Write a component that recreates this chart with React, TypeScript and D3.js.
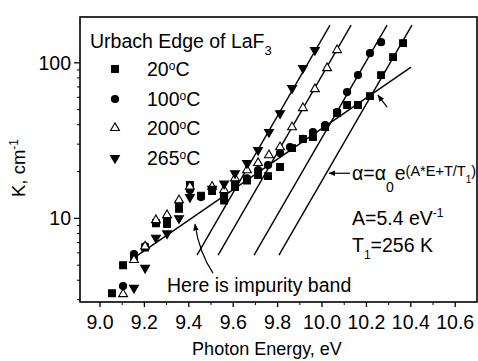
import React from "react";
import * as d3 from "d3";

// ---- data ----
const xDomain = [8.91, 10.698];
const yDomain = [2.9, 197];
const xTicks = [9.0, 9.2, 9.4, 9.6, 9.8, 10.0, 10.2, 10.4, 10.6];
const xTickLabels = ["9.0", "9.2", "9.4", "9.6", "9.8", "10.0", "10.2", "10.4", "10.6"];
const xMinorTicks = [9.1, 9.3, 9.5, 9.7, 9.9, 10.1, 10.3, 10.5];
const yTicks = [10, 100];
const yTickLabels = ["10", "100"];
const yMinorTicks = [3, 4, 5, 6, 7, 8, 9, 20, 30, 40, 50, 60, 70, 80, 90];

const seriesNames = ["20", "100", "200", "265"];

const e20 = [9.054, 9.104, 9.153, 9.203, 9.252, 9.302, 9.356, 9.405, 9.455, 9.505, 9.559, 9.608, 9.662, 9.712, 9.757, 9.811, 9.865, 9.914, 9.959, 10.014, 10.068, 10.113, 10.162, 10.216, 10.266, 10.32, 10.365];
const k20 = [3.3, 5.0, 5.7, 6.5, 9.3, 9.2, 11.5, 16.4, 14.0, 15.0, 13.0, 15.9, 17.5, 19.0, 18.7, 21.4, 28.3, 32.4, 33.3, 38.6, 47.6, 53.5, 53.5, 61.1, 83.4, 108.8, 133.9];

const e100 = [9.104, 9.153, 9.203, 9.252, 9.302, 9.356, 9.405, 9.455, 9.505, 9.559, 9.608, 9.662, 9.712, 9.757, 9.811, 9.856, 9.914, 9.959, 10.014, 10.068, 10.113, 10.162, 10.216, 10.266];
const k100 = [3.67, 5.9, 6.6, 9.4, 10.0, 12.6, 15.2, 13.7, 15.5, 14.1, 17.1, 18.1, 20.4, 22.0, 26.3, 28.7, 32.4, 35.9, 39.8, 48.2, 64.9, 83.4, 115.4, 135.8];

const e200 = [9.104, 9.153, 9.203, 9.252, 9.302, 9.356, 9.405, 9.505, 9.559, 9.608, 9.662, 9.712, 9.761, 9.811, 9.865, 9.914, 9.968, 10.023, 10.068];
const k200 = [3.26, 5.4, 6.6, 9.75, 10.5, 13.1, 16.0, 16.0, 15.2, 18.1, 20.4, 22.7, 25.5, 28.7, 38.6, 51.2, 67.8, 92.5, 120.8];

const e265 = [9.153, 9.203, 9.252, 9.302, 9.356, 9.405, 9.505, 9.559, 9.608, 9.662, 9.712, 9.761, 9.811, 9.865, 9.914, 9.968];
const k265 = [3.57, 4.8, 7.5, 8.0, 10.0, 13.7, 15.5, 16.7, 19.5, 22.7, 27.5, 35.9, 47.4, 68.7, 92.5, 120.8];

// fitted lines (endpoints, E in eV, K in cm-1)
const impurityLineE = [9.158, 10.401];
const impurityLineK = [5.64, 93.8];
const steepLowE = [9.437, 9.532, 9.694, 9.806];
const steepHighE = [10.036, 10.131, 10.293, 10.405];
const steepLowK = 5.8;
const steepHighK = 174.6;

// annotation anchors (data units)
const formulaArrow = { fromE: 10.126, toE: 10.032, K: 19.5 };
const kneeArrow = { fromE: 10.293, fromK: 51.9, toE: 10.252, toK: 61.9 };
const bandArrow = { fromE: 9.509, fromK: 4.45, ctrlE: 9.446, ctrlK: 6.07, toE: 9.428, toK: 9.19 };

const FONT = "'Liberation Sans', Arial, Helvetica, sans-serif";

export default function App() {
  const W = 478, H = 361;
  const x = d3.scaleLinear().domain(xDomain).range([80, 477]);
  const y = d3.scaleLog().domain(yDomain).range([302, 17]);
  const line = d3.line<[number, number]>().x((d) => x(d[0])).y((d) => y(d[1]));

  const sqPath = d3.symbol().type(d3.symbolSquare).size(46)()!;
  const circPath = d3.symbol().type(d3.symbolCircle).size(40)()!;
  const triPath = d3.symbol().type(d3.symbolTriangle).size(34)()!;

  const series = [
    { e: e20, k: k20, path: sqPath, fill: "#000", rot: 0 },
    { e: e100, k: k100, path: circPath, fill: "#000", rot: 0 },
    { e: e200, k: k200, path: triPath, fill: "#fff", rot: 0 },
    { e: e265, k: k265, path: triPath, fill: "#000", rot: 180 },
  ];

  const lines: [number, number][][] = [
    [[impurityLineE[0], impurityLineK[0]], [impurityLineE[1], impurityLineK[1]]],
    ...steepLowE.map((lo, i) => [[lo, steepLowK], [steepHighE[i], steepHighK]] as [number, number][]),
  ];

  const legendY = [69, 99, 128, 158];
  const legendTextY = [76, 106, 135, 165];

  const bandPath = `M${x(bandArrow.fromE)},${y(bandArrow.fromK)} Q${x(bandArrow.ctrlE)},${y(bandArrow.ctrlK)} ${x(bandArrow.toE)},${y(bandArrow.toK)}`;

  return (
    <svg width={W} height={H} style={{ position: "absolute", left: 0, top: 0, background: "#fff" }} fontFamily={FONT}>
      <defs>
        <marker id="ah" viewBox="0 0 10 10" refX="9" refY="5" markerWidth="7" markerHeight="7" orient="auto" markerUnits="userSpaceOnUse">
          <path d="M0,1 L10,5 L0,9 z" fill="#000" />
        </marker>
        <clipPath id="plot">
          <rect x={80} y={17} width={397} height={285} />
        </clipPath>
      </defs>
      <rect x={0} y={0} width={W} height={H} fill="#fff" />

      {/* frame */}
      <rect x={80} y={17} width={397} height={285} fill="none" stroke="#000" strokeWidth={1.6} />

      {/* x ticks */}
      {xTicks.map((t, i) => (
        <g key={"xt" + i}>
          <line x1={x(t)} x2={x(t)} y1={302} y2={307} stroke="#000" strokeWidth={1.3} />
          <text x={x(t)} y={329} fontSize={19.5} textAnchor="middle">{xTickLabels[i]}</text>
        </g>
      ))}
      {xMinorTicks.map((t, i) => (
        <line key={"xm" + i} x1={x(t)} x2={x(t)} y1={302} y2={305} stroke="#000" strokeWidth={1} />
      ))}
      {/* y ticks */}
      {yTicks.map((t, i) => (
        <g key={"yt" + i}>
          <line x1={74} x2={80} y1={y(t)} y2={y(t)} stroke="#000" strokeWidth={1.3} />
          <text x={71} y={y(t) + 7} fontSize={19.5} textAnchor="end">{yTickLabels[i]}</text>
        </g>
      ))}
      {yMinorTicks.map((t, i) => (
        <line key={"ym" + i} x1={77} x2={80} y1={y(t)} y2={y(t)} stroke="#000" strokeWidth={1} />
      ))}

      {/* axis titles */}
      <text x={267} y={355} fontSize={18} textAnchor="middle">Photon Energy, eV</text>
      <text transform="translate(25,168) rotate(-90)" fontSize={18.5} textAnchor="middle">
        K, cm<tspan fontSize={12} dy={-7}>-1</tspan>
      </text>

      {/* fit lines */}
      <g clipPath="url(#plot)">
        {lines.map((l, i) => (
          <path key={"l" + i} d={line(l)!} fill="none" stroke="#000" strokeWidth={1.4} />
        ))}
        {/* data */}
        {series.map((s, si) =>
          s.e.map((e, i) => (
            <path
              key={"p" + si + "-" + i}
              d={s.path}
              transform={`translate(${x(e)},${y(s.k[i])}) rotate(${s.rot})`}
              fill={s.fill}
              stroke="#000"
              strokeWidth={1.1}
            />
          ))
        )}
      </g>

      {/* legend */}
      <text x={90} y={48} fontSize={19.5}>
        Urbach Edge of LaF<tspan fontSize={13} dy={7}>3</tspan>
      </text>
      {series.map((s, i) => (
        <g key={"lg" + i}>
          <path d={s.path} transform={`translate(115,${legendY[i]}) rotate(${s.rot})`} fill={s.fill} stroke="#000" strokeWidth={1.1} />
          <text x={147} y={legendTextY[i]} fontSize={19.5}>
            {seriesNames[i]}<tspan fontSize={12} dy={-6}>o</tspan><tspan dy={6}>C</tspan>
          </text>
        </g>
      ))}

      {/* annotations */}
      <line x1={x(formulaArrow.fromE)} x2={x(formulaArrow.toE)} y1={y(formulaArrow.K)} y2={y(formulaArrow.K)} stroke="#000" strokeWidth={1.2} markerEnd="url(#ah)" />
      <text x={352} y={180} fontSize={19.5}>
        α=α<tspan fontSize={14} dy={12}>0</tspan><tspan fontSize={19.5} dy={-12} dx={1}>e</tspan><tspan fontSize={14.5} dy={-4}>(A*E+T/T</tspan><tspan fontSize={10} dy={7}>1</tspan><tspan fontSize={14.5} dy={-7}>)</tspan>
      </text>
      <line x1={x(kneeArrow.fromE)} y1={y(kneeArrow.fromK)} x2={x(kneeArrow.toE)} y2={y(kneeArrow.toK)} stroke="#000" strokeWidth={1.2} markerEnd="url(#ah)" />
      <path d={bandPath} fill="none" stroke="#000" strokeWidth={1.2} markerEnd="url(#ah)" />

      <text x={352} y={225} fontSize={19.5}>
        A=5.4 eV<tspan fontSize={12} dy={-8}>-1</tspan>
      </text>
      <text x={352} y={252} fontSize={19.5}>
        T<tspan fontSize={12} dy={7}>1</tspan><tspan dy={-7}>=256 K</tspan>
      </text>
      <text x={167} y={292} fontSize={19.5}>Here is impurity band</text>
    </svg>
  );
}
